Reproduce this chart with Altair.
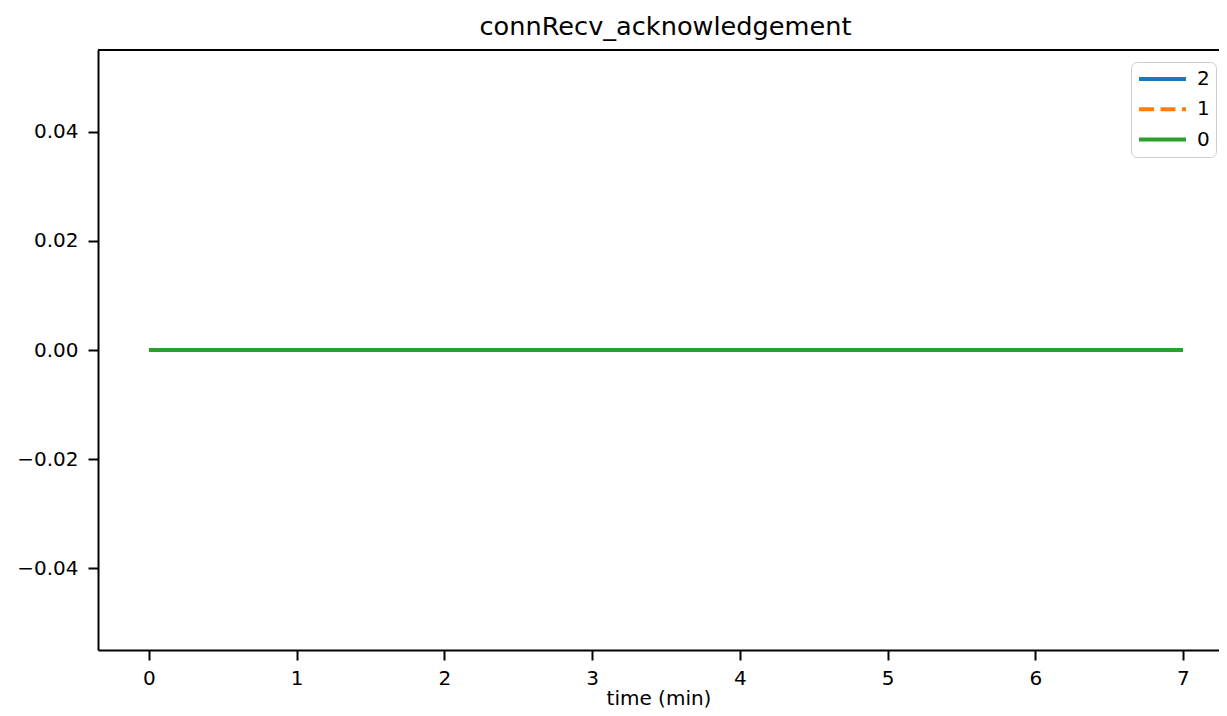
import altair as alt
import pandas as pd

# ---- data ----
time_min = [0.0, 0.5, 1.0, 1.5, 2.0, 2.5, 3.0, 3.5, 4.0, 4.5, 5.0, 5.5, 6.0, 6.5, 7.0]
series_2 = [0.0, 0.0, 0.0, 0.0, 0.0, 0.0, 0.0, 0.0, 0.0, 0.0, 0.0, 0.0, 0.0, 0.0, 0.0]
series_1 = [0.0, 0.0, 0.0, 0.0, 0.0, 0.0, 0.0, 0.0, 0.0, 0.0, 0.0, 0.0, 0.0, 0.0, 0.0]
series_0 = [0.0, 0.0, 0.0, 0.0, 0.0, 0.0, 0.0, 0.0, 0.0, 0.0, 0.0, 0.0, 0.0, 0.0, 0.0]
series_names = ["2", "1", "0"]
series_colors = ["#1f77b4", "#ff7f0e", "#2ca02c"]
series_dashes = [[1, 0], [15, 6.5], [1, 0]]
x_ticks = [0, 1, 2, 3, 4, 5, 6, 7]
y_ticks = [-0.04, -0.02, 0.0, 0.02, 0.04]

rows = []
for name, vals in zip(series_names, [series_2, series_1, series_0]):
    for t, v in zip(time_min, vals):
        rows.append({"time": t, "value": v, "series": name})
df = pd.DataFrame(rows)

W, H = 1121, 600
FONT = "DejaVu Sans"

legend_kw = dict(title=None, orient="none", legendX=1033, legendY=12,
                 symbolType="stroke", symbolSize=2209, symbolStrokeWidth=4,
                 clipHeight=22, labelFontSize=20, labelFont=FONT, labelColor="black",
                 labelOffset=9, rowPadding=8.3, padding=6,
                 fillColor="white", strokeColor="#cccccc", cornerRadius=6)

lines = alt.Chart(df).mark_line(strokeWidth=4, clip=True).encode(
    x=alt.X("time:Q",
            scale=alt.Scale(domain=[-0.345, 7.244], nice=False, zero=False),
            axis=alt.Axis(values=x_ticks, format="d", title="time (min)", grid=False,
                          labelPadding=8, titlePadding=0, labelFlush=False)),
    y=alt.Y("value:Q",
            scale=alt.Scale(domain=[-0.055, 0.055], nice=False, zero=False),
            axis=alt.Axis(values=y_ticks, format=".2f", title=None, grid=False,
                          labelPadding=10, labelFlush=False)),
    color=alt.Color("series:N", sort=series_names,
                    scale=alt.Scale(domain=series_names, range=series_colors),
                    legend=alt.Legend(**legend_kw)),
    strokeDash=alt.StrokeDash("series:N", sort=series_names,
                              scale=alt.Scale(domain=series_names, range=series_dashes),
                              legend=alt.Legend(**legend_kw)),
)

top_spine = alt.Chart(df).mark_rule(color="black", strokeWidth=2).encode(
    x=alt.value(0), x2=alt.value(W), y=alt.value(0)
)

chart = alt.layer(lines, top_spine).properties(
    width=W, height=H,
    title=alt.TitleParams("connRecv_acknowledgement", fontSize=25.6, font=FONT,
                          fontWeight="normal", color="black", anchor="middle", offset=8, dx=7),
    autosize=alt.AutoSizeParams(type="none"),
    padding={"left": 90, "top": 42, "right": 0, "bottom": 58},
    background="white",
).configure_view(stroke=None).configure_axis(
    domainColor="black", domainWidth=2, tickColor="black", tickWidth=2, tickSize=10,
    labelFont=FONT, labelFontSize=20, labelColor="black",
    titleFont=FONT, titleFontSize=20, titleFontWeight="normal", titleColor="black",
)

chart.save("out.html", embed_options={"renderer": "svg", "actions": False})
